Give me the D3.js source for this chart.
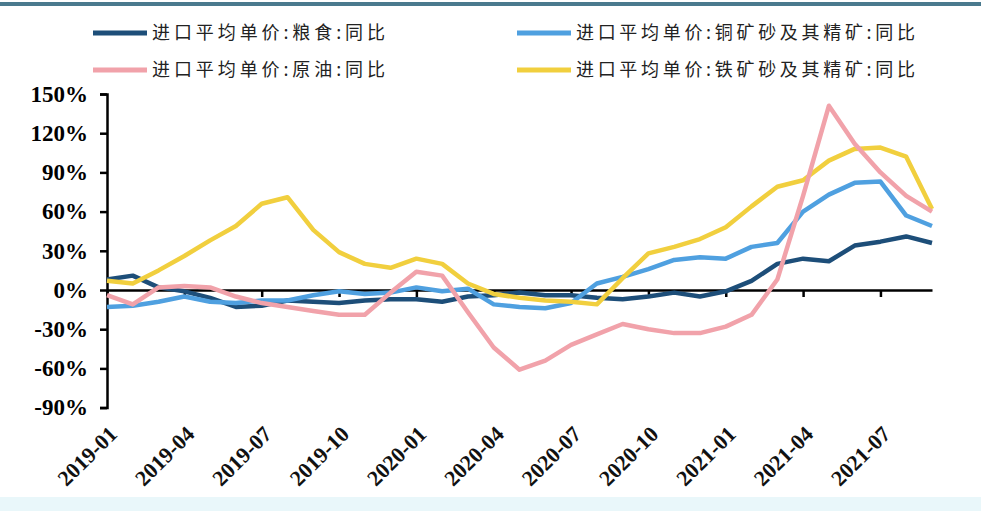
<!DOCTYPE html>
<html>
<head>
<meta charset="utf-8">
<script src="https://cdn.jsdelivr.net/npm/d3@7/dist/d3.min.js"></script>
<style>
  html, body { margin: 0; padding: 0; background: #ffffff; }
  svg { display: block; }
</style>
</head>
<body>
<svg id="chart" width="981" height="511"></svg>
<script>
// ---- data ----
const months = [
  "2019-01","2019-02","2019-03","2019-04","2019-05","2019-06","2019-07","2019-08","2019-09","2019-10","2019-11","2019-12",
  "2020-01","2020-02","2020-03","2020-04","2020-05","2020-06","2020-07","2020-08","2020-09","2020-10","2020-11","2020-12",
  "2021-01","2021-02","2021-03","2021-04","2021-05","2021-06","2021-07","2021-08","2021-09"
];
const grain  = [8, 11, 2, -1, -6, -13, -12, -8, -9, -10, -8, -7,  -7, -9, -5, -4, -2, -4, -4, -6, -7, -5, -2, -5,  -1, 7, 20, 24, 22, 34, 37, 41, 36];
const copper = [-13, -12, -9, -5, -9, -10, -8, -8, -4, -1, -3, -2,  2, -1, 1, -11, -13, -14, -10, 5, 10, 16, 23, 25,  24, 33, 36, 60, 73, 82, 83, 57, 49];
const crude  = [-4, -11, 2, 3, 2, -5, -10, -13, -16, -19, -19, -2,  14, 11, -17, -44, -61, -54, -42, -34, -26, -30, -33, -33,  -28, -19, 8, 72, 141, 112, 90, 72, 60];
const iron   = [7, 5, 15, 26, 38, 49, 66, 71, 46, 29, 20, 17,  24, 20, 5, -3, -6, -8, -9, -11, 9, 28, 33, 39,  48, 64, 79, 84, 99, 108, 109, 102, 62];
const yTicks = [-90, -60, -30, 0, 30, 60, 90, 120, 150];
const xTickLabels = ["2019-01","2019-04","2019-07","2019-10","2020-01","2020-04","2020-07","2020-10","2021-01","2021-04","2021-07"];
const seriesNames = ["进口平均单价:粮食:同比","进口平均单价:铜矿砂及其精矿:同比","进口平均单价:原油:同比","进口平均单价:铁矿砂及其精矿:同比"];

// ---- build ----
const svg = d3.select("#chart");
const W = 981, H = 511;

// decorative frame
svg.append("rect").attr("x", 0).attr("y", 497).attr("width", W).attr("height", H - 497).attr("fill", "#e9f7fa");
svg.append("rect").attr("x", 0).attr("y", 2).attr("width", W).attr("height", 4).attr("fill", "#4a7a8e");

const x = d3.scaleLinear().domain([0, months.length - 1]).range([107, 932]);
const y = d3.scaleLinear().domain([-90, 150]).range([407.6, 94]);

const serif = "'Times New Roman', 'Liberation Serif', 'DejaVu Serif', serif";

// y axis
const yAxis = svg.append("g").attr("transform", `translate(${x(0)},0)`)
  .call(d3.axisLeft(y).tickValues(yTicks).tickSize(7).tickPadding(12).tickFormat(d => d + "%"));
yAxis.select(".domain").attr("stroke", "#000").attr("stroke-width", 2.5);
yAxis.selectAll(".tick line").attr("stroke", "#000").attr("stroke-width", 2.5);
yAxis.selectAll(".tick text").attr("font-family", serif).attr("font-weight", "bold")
  .attr("font-size", 23).attr("fill", "#000");

// x axis at zero
const tickIdx = xTickLabels.map(l => months.indexOf(l));
const xAxis = svg.append("g").attr("transform", `translate(0,${y(0)})`)
  .call(d3.axisBottom(x).tickValues(tickIdx).tickSize(7).tickSizeOuter(0).tickFormat(""));
xAxis.select(".domain").attr("stroke", "#000").attr("stroke-width", 2.5);
xAxis.selectAll(".tick line").attr("stroke", "#000").attr("stroke-width", 2.5);

// x labels at bottom, rotated
svg.append("g").selectAll("text").data(xTickLabels).join("text")
  .attr("transform", d => `translate(${x(months.indexOf(d)) + 6},${430}) rotate(-45)`)
  .attr("text-anchor", "end")
  .attr("dy", "0.35em")
  .attr("font-family", serif).attr("font-weight", "bold").attr("font-size", 22).attr("fill", "#111")
  .text(d => d);

// lines
const series = [
  { name: seriesNames[0], values: grain,  color: "#1d4e79" },
  { name: seriesNames[1], values: copper, color: "#4fa0e0" },
  { name: seriesNames[3], values: iron,   color: "#f1cf3e" },
  { name: seriesNames[2], values: crude,  color: "#f1a2aa" }
];
const line = d3.line().x((d, i) => x(i)).y(d => y(d));
svg.append("g").selectAll("path").data(series).join("path")
  .attr("d", d => line(d.values))
  .attr("fill", "none")
  .attr("stroke", d => d.color)
  .attr("stroke-width", 4.5)
  .attr("stroke-linejoin", "round");

// legend
const legendItems = [
  { name: seriesNames[0], color: "#1d4e79", lx: 93, ty: 33, w: 233 },
  { name: seriesNames[1], color: "#4fa0e0", lx: 517, ty: 33, w: 339 },
  { name: seriesNames[2], color: "#f1a2aa", lx: 93, ty: 70, w: 233 },
  { name: seriesNames[3], color: "#f1cf3e", lx: 517, ty: 70, w: 339 }
];
const lg = svg.append("g").selectAll("g").data(legendItems).join("g");
lg.append("line")
  .attr("x1", d => d.lx).attr("x2", d => d.lx + 54)
  .attr("y1", d => d.ty).attr("y2", d => d.ty)
  .attr("stroke", d => d.color).attr("stroke-width", 5);
lg.append("text")
  .attr("x", d => d.lx + 59).attr("y", d => d.ty)
  .attr("dy", "0.36em")
  .attr("font-family", "'Noto Sans CJK SC', sans-serif")
  .attr("font-size", 18).attr("fill", "#222")
  .attr("textLength", d => d.w).attr("lengthAdjust", "spacing")
  .text(d => d.name);
</script>
</body>
</html>
